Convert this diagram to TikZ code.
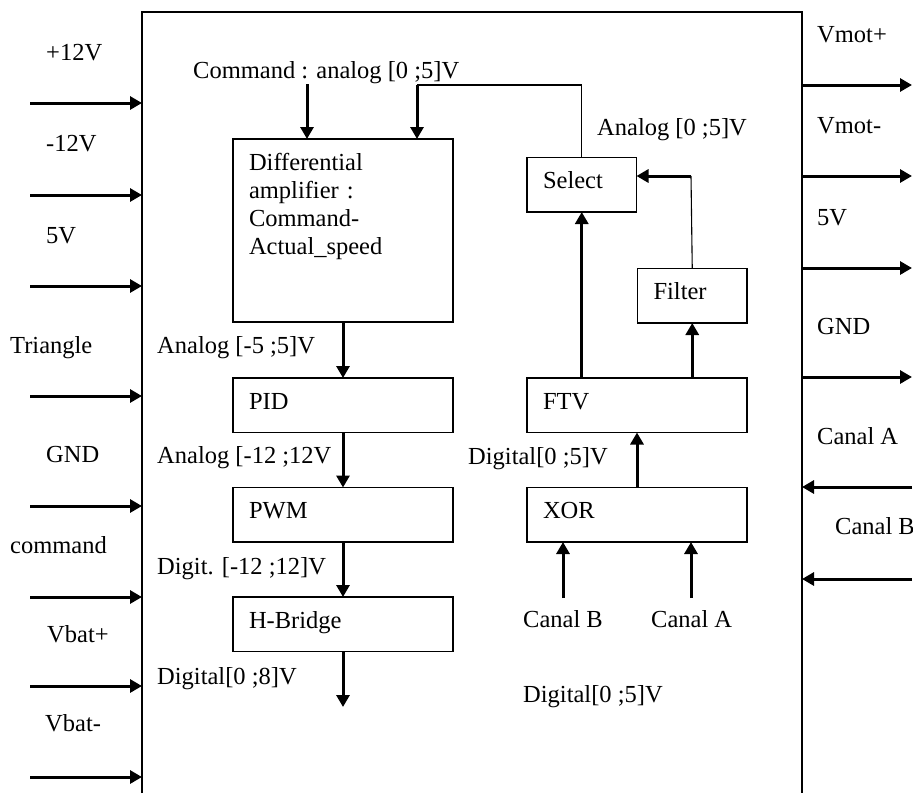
\documentclass[tikz,border=0pt]{standalone}
\usepackage{fontspec}
\setmainfont{Liberation Serif}
\usetikzlibrary{positioning, arrows.meta}

\begin{document}
\begin{tikzpicture}[
  x=1pt, y=-1pt,
  every node/.style={font=\fontsize{24.5}{28}\selectfont},
  block/.style={rectangle, draw, line width=1.3pt, outer sep=0pt,
                text width=188pt, inner xsep=16pt, inner ysep=6pt,
                align=left, text height=25pt, text depth=17.5pt},
  smallblock/.style={block, text width=77.5pt},
  tag/.style={anchor=base west, inner sep=0pt},
  arrow/.style={-{Triangle[length=12pt, width=13pt]}, line width=3pt},
  wire/.style={line width=1.1pt}
]
\useasboundingbox (0,0) rectangle (913,793);

% ---- Frame ----
\coordinate (frameNW) at (142,12);
\coordinate (frameNE) at (802,12);
\draw [line width=1.4pt] (frameNW |- 0,793) -- (frameNW) -- (frameNE) -- (frameNE |- 0,793);

% ---- Left inputs ----
\foreach \n/\y/\lx/\ly/\txt in {1/103/46/60/{+12V}, 2/195/46/151/{-12V},
    3/286/46/243/{5V}, 4/396/10/353/{Triangle}, 5/506/46/462/{GND},
    6/597/10/553/{command}, 7/686/47/642/{Vbat+}, 8/777/45/731/{Vbat-}}
{
  \node (inlab\n) [tag] at (\lx,\ly) {\txt};
  \coordinate (in\n) at (30,\y);
  \draw [arrow] (in\n) -- (in\n -| frameNW);
}

% ---- Right outputs / inputs ----
\foreach \n/\y/\ly/\txt in {1/85/42/{Vmot+}, 2/176/133/{Vmot-},
    3/268/225/{5V}, 4/377/334/{GND}}
{
  \node (outlab\n) [tag] at (817,\ly) {\txt};
  \coordinate (out\n) at (912,\y);
  \draw [arrow] (out\n -| frameNE) -- (out\n);
}
\node (rinlabA) [tag] at (817,444) {Canal A};
\node (rinlabB) [tag] at (835,534) {Canal B};
\coordinate (rinA) at (912,487);
\coordinate (rinB) at (912,579);
\draw [arrow] (rinA) -- (rinA -| frameNE);
\draw [arrow] (rinB) -- (rinB -| frameNE);

% ---- Left chain ----
\node (diffamp) [block, anchor=north, text depth=146pt] at (343,139)
  {Differential\\amplifier :\\Command-\\Actual\_speed};
\node (pid)     [block, below=56pt of diffamp] {PID};
\node (pwm)     [block, below=55pt of pid]     {PWM};
\node (hbridge) [block, below=55pt of pwm]     {H-Bridge};

% ---- Right chain ----
\node (ftv)    [block, right=74pt of pid]  {FTV};
\node (xor)    [block, below=55pt of ftv]  {XOR};
\node (filter) [smallblock, above=55pt of ftv.north east, anchor=south east]  {Filter};
\node (select) [smallblock, above=166pt of ftv.north west, anchor=south west] {Select};

% ---- Labels ----
\node (cmdlab)  [tag] at (193,78)  {Command : analog [0 ;5]V};
\node (sellab)  [tag] at (597,135) {Analog [0 ;5]V};
\node (diflab)  [tag] at (157,353) {Analog [-5 ;5]V};
\node (pidlab)  [tag] at (157,463) {Analog [-12 ;12V};
\node (pwmlab)  [tag] at (157,574) {Digit. [-12 ;12]V};
\node (hbrlab)  [tag] at (157,684) {Digital[0 ;8]V};
\node (xorlab)  [tag] at (468,464) {Digital[0 ;5]V};
\node (canBlab) [tag] at (523,627) {Canal B};
\node (canAlab) [tag] at (651,627) {Canal A};
\node (diglab)  [tag] at (523,702) {Digital[0 ;5]V};

% ---- Arrows ----
\coordinate (cmdin)  at (307,84);
\coordinate (selcmd) at (417,85);
\coordinate (fsel)   at (691,176);
\coordinate (hout)   at (343,707);
\coordinate (canB)   at (563,598);
\coordinate (canA)   at (691,598);

\draw [arrow] (cmdin) -- (cmdin |- diffamp.north);
\draw [wire]  (select.north) |- (selcmd);
\draw [arrow] (selcmd) -- (selcmd |- diffamp.north);
\draw [arrow] (diffamp) -- (pid);
\draw [arrow] (pid) -- (pwm);
\draw [arrow] (pwm) -- (hbridge);
\draw [arrow] (hbridge) -- (hout);

\draw [arrow] (canB) -- (canB |- xor.south);
\draw [arrow] (canA) -- (canA |- xor.south);
\draw [arrow] (xor) -- (ftv);
\draw [arrow] (select.south |- ftv.north) -- (select.south);
\draw [arrow] (filter.south |- ftv.north) -- (filter.south);
\draw [wire]  (filter.north) -- (fsel);
\draw [arrow] (fsel) -- (fsel -| select.east);
\end{tikzpicture}
\end{document}
